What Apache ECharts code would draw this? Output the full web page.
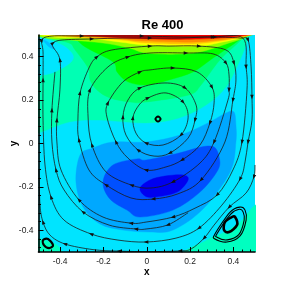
<!DOCTYPE html>
<html><head><meta charset="utf-8">
<style>html,body{margin:0;padding:0;background:#fff}#c{width:291px;height:284px}</style>
<script src="https://cdn.jsdelivr.net/npm/echarts@6/dist/echarts.min.js"></script>
</head><body><div id="c"></div>
<script>
const majorTicks=[-0.4,-0.2,0,0.2,0.4];
const minorTicks=[-0.48,-0.44,-0.36,-0.32,-0.28,-0.24,-0.16,-0.12,-0.08,-0.04,0.04,0.08,0.12,0.16,0.24,0.28,0.32,0.36,0.44,0.48];
const full=[[-.5,-.5],[.5,-.5],[.5,.5],[-.5,.5]];
const spring=[[-.6,.02],[-.5,.048],[-.359,.099],[-.22,.108],[-.003,.095],[.149,.118],[.274,.177],[.366,.26],[.431,.385],[.468,.486],[.49,.6],[-.6,.6]];
const blob=[[-.54,.49],[-.484,.486],[-.391,.454],[-.341,.408],[-.354,.371],[-.424,.33],[-.479,.316],[-.54,.316]];
const patch=[[-.479,.477],[-.456,.468],[-.424,.436],[-.451,.445]];
const green1=[[-.48,.53],[-.46,.488],[-.359,.463],[-.331,.431],[-.271,.348],[-.262,.293],[-.23,.247],[-.17,.21],[-.077,.191],[-.003,.191],[.195,.224],[.251,.27],[.338,.385],[.444,.486],[.49,.56],[-.3,.6]];
const green2=[[-.37,.53],[-.322,.477],[-.276,.44],[-.156,.376],[-.137,.33],[-.087,.284],[-.003,.27],[.103,.293],[.214,.33],[.306,.394],[.426,.477],[.47,.53],[0,.6]];
const yellowGreen=[[-.5,.52],[-.465,.486],[-.359,.477],[-.202,.463],[-.082,.44],[-.003,.417],[.149,.412],[.26,.425],[.38,.463],[.459,.491],[.49,.53],[0,.6]];
const yellow=[[-.47,.52],[-.433,.491],[-.28,.486],[-.128,.468],[-.003,.454],[.228,.449],[.352,.468],[.444,.491],[.48,.53],[0,.6]];
const amber=[[-.46,.52],[-.37,.493],[-.128,.478],[-.003,.463],[.228,.46],[.431,.49],[.47,.52],[0,.58]];
const orange=[[-.447,.52],[-.308,.495],[-.128,.482],[-.003,.472],[.228,.468],[.431,.491],[.47,.52],[0,.58]];
const red=[[-.42,.515],[-.216,.493],[-.003,.482],[.246,.481],[.431,.495],[.46,.515],[0,.56]];
const blue1=[[-.156,.007],[-.003,.007],[.154,.039],[.283,.095],[.366,.141],[.403,.145],[.412,.085],[.412,.007],[.385,-.131],[.26,-.302],[.121,-.399],[.015,-.408],[-.11,-.399],[-.216,-.371],[-.294,-.293],[-.327,-.177],[-.308,-.053],[-.248,-.021]];
const blue2=[[-.202,-.177],[-.156,-.099],[-.045,-.071],[-.003,-.076],[.149,-.044],[.251,-.016],[.311,-.016],[.334,-.062],[.329,-.122],[.246,-.224],[.121,-.307],[-.031,-.339],[-.091,-.307],[-.17,-.256]];
const blue3=[[-.031,-.205],[.015,-.168],[.084,-.15],[.168,-.145],[.191,-.168],[.14,-.224],[.038,-.247],[-.008,-.242]];
const cornerBR=[[.17,-.53],[.278,-.445],[.361,-.408],[.431,-.362],[.53,-.29],[.6,-.6]];
const cornerBL=[[-.54,-.44],[-.456,-.45],[-.406,-.477],[-.39,-.54],[-.55,-.55]];
const streamA=[[.5,-.099],[.495,-.154],[.459,-.228],[.381,-.293],[.311,-.376],[.265,-.436],[.205,-.486],[.154,-.495],[.015,-.498],[-.128,-.496],[-.248,-.489],[-.378,-.463],[-.447,-.422],[-.479,-.362],[-.493,-.284],[-.498,-.122]];
const streamB=[[-.479,.108],[-.479,.293],[-.479,.422],[-.484,.477],[-.438,.495],[-.299,.495],[-.16,.495],[-.022,.495],[.168,.491],[.315,.491],[.431,.486],[.468,.477],[.482,.353],[.486,.214],[.486,.108],[.468,.007],[.454,-.085],[.431,-.164],[.347,-.284],[.241,-.39],[.135,-.436],[-.003,-.454],[-.133,-.445],[-.257,-.417],[-.382,-.353],[-.442,-.247],[-.47,-.099],[-.479,.108]];
const streamC=[[.191,-.319],[.098,-.375],[-.003,-.394],[-.05,-.394],[-.174,-.376],[-.294,-.316],[-.382,-.214],[-.419,-.122],[-.438,.007],[-.438,.154],[-.424,.33]];
const streamD=[[-.415,.007],[-.415,.108],[-.401,.247],[-.401,.385],[-.433,.445],[-.433,.463],[-.391,.477],[-.253,.482],[-.114,.486],[.015,.486],[.149,.486],[.306,.491],[.444,.486],[.459,.353],[.463,.247],[.44,.007],[.398,-.122],[.325,-.237],[.223,-.298],[.121,-.339],[-.003,-.362],[-.073,-.367],[-.202,-.339],[-.313,-.26],[-.396,-.122],[-.415,.007]];
const streamE=[[-.318,.108],[-.308,.233],[-.267,.348],[-.23,.399],[-.161,.431],[.015,.449],[.103,.449],[.242,.449],[.366,.431],[.403,.371],[.412,.293],[.398,.2],[.361,.007],[.251,-.168],[.144,-.232],[.03,-.256],[-.073,-.251],[-.188,-.191],[-.267,-.122],[-.313,.016],[-.318,.108]];
const streamF=[[-.271,.122],[-.262,.247],[-.179,.353],[-.087,.399],[.015,.417],[.181,.417],[.306,.413],[.366,.371],[.38,.316],[.38,.247],[.375,.2],[.311,.007],[.246,-.09],[.121,-.177],[.02,-.205],[-.07,-.192],[-.188,-.131],[-.253,-.007],[-.271,.122]];
const streamG=[[-.184,.122],[-.179,.187],[-.11,.284],[-.031,.33],[.015,.339],[.121,.348],[.232,.33],[.301,.26],[.311,.187],[.292,.095],[.246,-.007],[.163,-.076],[.089,-.108],[-.003,-.122],[-.087,-.067],[-.142,.007],[-.184,.122]];
const streamH=[[.084,.279],[.177,.256],[.228,.177],[.223,.108],[.191,.025],[.107,-.044],[.034,-.058],[-.04,-.03],[-.096,.039],[-.11,.122],[-.087,.2],[-.031,.256],[.084,.279]];
const streamI=[[.089,.233],[.168,.191],[.191,.118],[.158,.039],[.075,-.007],[-.003,.002],[-.05,.048],[-.064,.118],[-.036,.177],[.006,.21],[.089,.233]];
const coreCentre=[[.064,.113],[.052,.125],[.04,.113],[.052,.101],[.064,.113]];
const eddyOuter1=[[.454,-.307],[.431,-.293],[.385,-.316],[.315,-.417],[.315,-.44],[.37,-.454],[.431,-.426],[.459,-.353],[.454,-.307]];
const eddyOuter2=[[.445,-.315],[.428,-.303],[.388,-.325],[.325,-.415],[.325,-.432],[.372,-.444],[.425,-.42],[.45,-.353],[.445,-.315]];
const eddyCore=[[.408,-.339],[.417,-.376],[.38,-.408],[.357,-.399],[.361,-.362],[.393,-.339],[.408,-.339]];
const eddySmall=[[-.479,-.445],[-.456,-.44],[-.433,-.468],[-.451,-.482],[-.475,-.468],[-.479,-.445]];

const layers=[
 [full,'#00e4ff',0],[spring,'#00ffb4',1],[blob,'#00e6ff',1],[patch,'#00c0ff',1],
 [green1,'#00ff70',1],[green2,'#00ff00',1],[yellowGreen,'#90ff00',1],[yellow,'#ffff00',1],[amber,'#ffc400',1],[orange,'#ff8c00',1],[red,'#f00000',1],
 [blue1,'#00a8ff',1],[blue2,'#0050ff',1],[blue3,'#0000f0',1],[cornerBR,'#00ffc0',1],[cornerBL,'#00ffc0',1]
];
const streams=[streamA,streamB,streamC,streamD,streamE,streamF,streamG,streamH,streamI];
const thick=[[coreCentre,2],[eddyCore,2.6],[eddySmall,2.2],[eddyOuter1,1.1],[eddyOuter2,1.1]];

// Catmull-Rom outline through pixel-mapped vertices
function spline(p,closed){
  const n=p.length,at=i=>closed?p[(i+n)%n]:p[Math.max(0,Math.min(n-1,i))];
  let d='M'+p[0][0]+' '+p[0][1];
  const m=closed?n:n-1;
  for(let i=0;i<m;i++){
    const a=at(i-1),b=at(i),c=at(i+1),e=at(i+2);
    d+='C'+(b[0]+(c[0]-a[0])/6)+' '+(b[1]+(c[1]-a[1])/6)+' '+(c[0]-(e[0]-b[0])/6)+' '+(c[1]-(e[1]-b[1])/6)+' '+c[0]+' '+c[1];
  }
  return closed?d+'Z':d;
}
function strokePath(points){
  const same=points[0][0]===points[points.length-1][0]&&points[0][1]===points[points.length-1][1];
  return spline(same?points.slice(0,-1):points,same);
}
const arrows=[];
streams.forEach(s=>{for(let i=1;i<s.length-1;i+=2){
  const dx=s[i+1][0]-s[i-1][0],dy=s[i+1][1]-s[i-1][1];
  arrows.push({value:s[i],symbolRotate:-Math.atan2(dx,dy)*180/Math.PI});
}});
const series=[{
  type:'custom',coordinateSystem:'cartesian2d',clip:true,silent:true,z:1,
  data:layers.map((l,i)=>[0,0,i]),
  renderItem:(p,api)=>{const l=layers[api.value(2)],pts=l[0].map(q=>api.coord(q));
    return l[2]?{type:'path',shape:{pathData:spline(pts,true)},style:{fill:l[1],stroke:l[1],lineWidth:.4}}
      :{type:'polygon',shape:{points:pts},style:{fill:l[1]}};}
},{
  type:'custom',coordinateSystem:'cartesian2d',clip:true,silent:true,z:3,
  data:streams.map((s,i)=>[0,0,i]).concat(thick.map((t,i)=>[0,0,streams.length+i])),
  renderItem:(p,api)=>{const k=api.value(2),isT=k>=streams.length,pts=(isT?thick[k-streams.length][0]:streams[k]).map(q=>api.coord(q));
    return {type:'path',shape:{pathData:strokePath(pts)},style:{fill:'none',stroke:isT?'#000':'#1a1a1a',lineWidth:isT?thick[k-streams.length][1]:.8}};}
},{type:'scatter',data:arrows,symbol:'triangle',symbolSize:[3.5,4.5],silent:true,z:4,itemStyle:{color:'#111',opacity:1}}];

const F='"Liberation Sans",Arial,sans-serif';
function ax(extra,minor){return Object.assign({type:'value',min:-.5,max:.5,z:10,silent:true,splitLine:{show:false},
  axisLine:{show:!minor,onZero:false,lineStyle:{color:'#000',width:1.6}},
  axisTick:{show:true,inside:true,length:minor?2.5:5,customValues:minor?minorTicks:majorTicks,lineStyle:{color:'#000',width:1}},
  axisLabel:minor?{show:false}:{show:true,customValues:majorTicks,margin:5,fontSize:8.5,color:'#222',fontFamily:F,formatter:v=>v===0?'0':String(v)}
 },extra);}
const nameStyle={fontFamily:F,fontWeight:'bold',fontSize:10,color:'#000'};
const chart=echarts.init(document.getElementById('c'),null,{renderer:'canvas'});
chart.setOption({animation:false,backgroundColor:'#fff',
 title:{text:'Re 400',left:157.5,top:13,textAlign:'center',textStyle:{fontFamily:F,fontWeight:'bold',fontSize:13,color:'#000',lineHeight:14}},
 grid:{left:38.5,top:35,width:216.5,height:217,outerBoundsMode:'none',containLabel:false},
 xAxis:[ax({position:'bottom',name:'x',nameLocation:'middle',nameGap:15,nameMoveOverlap:false,nameTextStyle:nameStyle},false),ax({position:'bottom'},true)],
 yAxis:[ax({position:'left',name:'y',nameLocation:'middle',nameGap:19,nameMoveOverlap:false,nameTextStyle:nameStyle},false),ax({position:'left'},true)],
 series:series});
</script></body></html>
